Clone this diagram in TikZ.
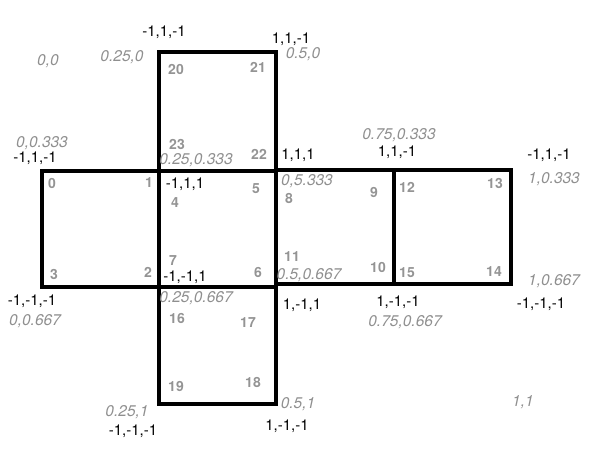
\documentclass[tikz,border=0pt]{standalone}
\usepackage{fontspec}
\setmainfont{TeX Gyre Heros}
\definecolor{UV}{rgb}{0.56, 0.56, 0.56}
\definecolor{IDX}{rgb}{0.58, 0.58, 0.58}

\begin{document}
\begin{tikzpicture}[x=1pt,y=-1pt,
  xyz/.style={inner sep=0pt,font=\fontsize{15}{16}\selectfont},
  uv/.style={inner sep=0pt,text=UV,font=\fontsize{15.5}{16}\selectfont\itshape},
  idx/.style={inner sep=0pt,text=IDX,font=\fontsize{14}{15}\selectfont\bfseries},
  face/.style={line width=4pt}]
\useasboundingbox (0,0) rectangle (600,460);
% faces of the net
\draw[face] (42,171) rectangle (159,287);
\draw[face] (159,52) rectangle (276,171);
\draw[face] (159,171) rectangle (276,287);
\draw[face] (159,287) rectangle (276,404);
\draw[face] (276,170) rectangle (394,284);
\draw[face] (394,170) rectangle (511,284);
% positions
\node[xyz] (P20) at (164,32) {-1,1,-1};
\node[xyz] (P21) at (291,39) {1,1,-1};
\node[xyz] (P0) at (35,158) {-1,1,-1};
\node[xyz] (P4) at (185,184) {-1,1,1};
\node[xyz] (P8) at (298,155) {1,1,1};
\node[xyz] (P12) at (397,152) {1,1,-1};
\node[xyz] (P13) at (549,155) {-1,1,-1};
\node[xyz] (P7) at (185,277) {-1,-1,1};
\node[xyz] (P11) at (302,305) {1,-1,1};
\node[xyz] (P15) at (398,302) {1,-1,-1};
\node[xyz] (P14) at (541,304) {-1,-1,-1};
\node[xyz] (P3) at (32,301) {-1,-1,-1};
\node[xyz] (P19) at (133,431) {-1,-1,-1};
\node[xyz] (P18) at (287,426) {1,-1,-1};
% texture coordinates
\node[uv] (T00) at (48,61) {0,0};
\node[uv] (T20) at (122,57) {0.25,0};
\node[uv] (T21) at (303,54) {0.5,0};
\node[uv] (T0) at (42,143) {0,0.333};
\node[uv] (T23) at (196,160) {0.25,0.333};
\node[uv] (T8) at (307,181) {0,5.333};
\node[uv] (T12) at (399,135) {0.75,0.333};
\node[uv] (T13) at (554,179) {1,0.333};
\node[uv] (T11) at (309,275) {0.5,0.667};
\node[uv] (T14) at (554,281) {1,0.667};
\node[uv] (T15) at (405,322) {0.75,0.667};
\node[uv] (T7) at (196,298) {0.25,0.667};
\node[uv] (T3) at (35,321) {0,0.667};
\node[uv] (T19) at (127,412) {0.25,1};
\node[uv] (T18) at (298,404) {0.5,1};
\node[uv] (T11b) at (523,402) {1,1};
% vertex indices
\node[idx] (I0) at (52,183) {0};
\node[idx] (I1) at (149,183) {1};
\node[idx] (I2) at (148,272) {2};
\node[idx] (I3) at (54,274) {3};
\node[idx] (I4) at (175,203) {4};
\node[idx] (I5) at (256,189) {5};
\node[idx] (I6) at (258,272) {6};
\node[idx] (I7) at (173,261) {7};
\node[idx] (I8) at (289,198) {8};
\node[idx] (I9) at (374,192) {9};
\node[idx] (I10) at (378,267) {10};
\node[idx] (I11) at (292,257) {11};
\node[idx] (I12) at (407,187) {12};
\node[idx] (I13) at (495,183) {13};
\node[idx] (I14) at (494,272) {14};
\node[idx] (I15) at (407,273) {15};
\node[idx] (I16) at (177,318) {16};
\node[idx] (I17) at (248,323) {17};
\node[idx] (I18) at (253,382) {18};
\node[idx] (I19) at (176,386) {19};
\node[idx] (I20) at (176,69) {20};
\node[idx] (I21) at (258,67) {21};
\node[idx] (I22) at (259,154) {22};
\node[idx] (I23) at (177,144) {23};
\end{tikzpicture}
\end{document}
